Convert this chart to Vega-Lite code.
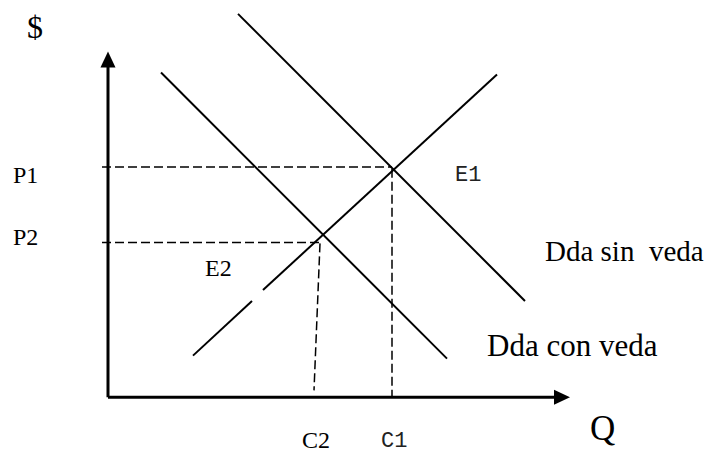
{
  "$schema": "https://vega.github.io/schema/vega-lite/v6.json",
  "width": 711,
  "height": 453,
  "autosize": {"type": "fit", "contains": "padding"},
  "padding": 0,
  "background": "white",
  "config": {"view": {"stroke": null}},
  "datasets": {
    "curves": [
      {"name": "Oferta", "x1": 8.5, "y1": 4.2, "x2": 14.4, "y2": 9.7},
      {"name": "Oferta", "x1": 15.5, "y1": 10.8, "x2": 38.9, "y2": 32.5},
      {"name": "Dda sin veda", "x1": 13.0, "y1": 38.6, "x2": 41.7, "y2": 9.7},
      {"name": "Dda con veda", "x1": 5.3, "y1": 32.7, "x2": 33.9, "y2": 3.9}
    ],
    "axes": [
      {"name": "Q", "x1": 0, "y1": 0, "x2": 45.0, "y2": 0},
      {"name": "$", "x1": 0, "y1": 0, "x2": 0, "y2": 33.5}
    ],
    "guides": [
      {"name": "P1", "x1": -0.6, "y1": 23.2, "x2": 28.4, "y2": 23.2},
      {"name": "C1", "x1": 28.4, "y1": 23.0, "x2": 28.4, "y2": 0},
      {"name": "P2", "x1": -0.6, "y1": 15.6, "x2": 21.5, "y2": 15.6},
      {"name": "C2", "x1": 21.2, "y1": 15.5, "x2": 20.6, "y2": 0.7}
    ],
    "arrowY": [{"x": 0, "y": 34.0}],
    "arrowX": [{"x": 45.4, "y": 0}],
    "serifSmall": [
      {"label": "P1", "x": -9.5, "y": 21.6},
      {"label": "P2", "x": -9.5, "y": 15.3},
      {"label": "E2", "x": 9.7, "y": 12.2},
      {"label": "C2", "x": 19.4, "y": -5.1}
    ],
    "serifSin": [
      {"label": "Dda sin\u00a0\u00a0veda", "x": 43.7, "y": 13.7}
    ],
    "serifCon": [
      {"label": "Dda con veda", "x": 37.9, "y": 4.2}
    ],
    "dollar": [{"label": "$", "x": -8.1, "y": 36.2}],
    "mono": [
      {"label": "E1", "x": 34.7, "y": 21.8},
      {"label": "C1", "x": 27.3, "y": -5.0}
    ],
    "big": [{"label": "Q", "x": 48.2, "y": -4.3}]
  },
  "encoding": {
    "x": {"field": "x", "type": "quantitative", "scale": {"domain": [-10.8, 60.3], "nice": false, "zero": false}, "axis": null},
    "y": {"field": "y", "type": "quantitative", "scale": {"domain": [-5.3, 40.0], "nice": false, "zero": false}, "axis": null}
  },
  "layer": [
    {
      "data": {"name": "curves"},
      "mark": {"type": "rule", "color": "black", "strokeWidth": 2},
      "encoding": {
        "x": {"field": "x1", "type": "quantitative"},
        "y": {"field": "y1", "type": "quantitative"},
        "x2": {"field": "x2"},
        "y2": {"field": "y2"}
      }
    },
    {
      "data": {"name": "guides"},
      "mark": {"type": "rule", "color": "black", "strokeWidth": 1.5, "strokeDash": [9, 4]},
      "encoding": {
        "x": {"field": "x1", "type": "quantitative"},
        "y": {"field": "y1", "type": "quantitative"},
        "x2": {"field": "x2"},
        "y2": {"field": "y2"}
      }
    },
    {
      "data": {"name": "axes"},
      "mark": {"type": "rule", "color": "black", "strokeWidth": 3},
      "encoding": {
        "x": {"field": "x1", "type": "quantitative"},
        "y": {"field": "y1", "type": "quantitative"},
        "x2": {"field": "x2"},
        "y2": {"field": "y2"}
      }
    },
    {
      "data": {"name": "arrowY"},
      "mark": {"type": "point", "shape": "M0,-1L-0.94,1L0.94,1Z", "size": 256, "filled": true, "color": "black", "opacity": 1}
    },
    {
      "data": {"name": "arrowX"},
      "mark": {"type": "point", "shape": "M1,0L-1,-0.94L-1,0.94Z", "size": 256, "filled": true, "color": "black", "opacity": 1}
    },
    {
      "data": {"name": "serifSmall"},
      "mark": {"type": "text", "font": "Times New Roman, Liberation Serif, serif", "fontSize": 24, "align": "left", "baseline": "alphabetic", "color": "black"},
      "encoding": {"text": {"field": "label"}}
    },
    {
      "data": {"name": "serifSin"},
      "mark": {"type": "text", "font": "Times New Roman, Liberation Serif, serif", "fontSize": 29, "align": "left", "baseline": "alphabetic", "color": "black"},
      "encoding": {"text": {"field": "label"}}
    },
    {
      "data": {"name": "serifCon"},
      "mark": {"type": "text", "font": "Times New Roman, Liberation Serif, serif", "fontSize": 31, "align": "left", "baseline": "alphabetic", "color": "black"},
      "encoding": {"text": {"field": "label"}}
    },
    {
      "data": {"name": "dollar"},
      "mark": {"type": "text", "font": "Times New Roman, Liberation Serif, serif", "fontSize": 32, "align": "left", "baseline": "alphabetic", "color": "black"},
      "encoding": {"text": {"field": "label"}}
    },
    {
      "data": {"name": "mono"},
      "mark": {"type": "text", "font": "Courier New, Liberation Mono, monospace", "fontSize": 22, "align": "left", "baseline": "alphabetic", "color": "#222"},
      "encoding": {"text": {"field": "label"}}
    },
    {
      "data": {"name": "big"},
      "mark": {"type": "text", "font": "Times New Roman, Liberation Serif, serif", "fontSize": 35, "align": "left", "baseline": "alphabetic", "color": "black"},
      "encoding": {"text": {"field": "label"}}
    }
  ]
}
